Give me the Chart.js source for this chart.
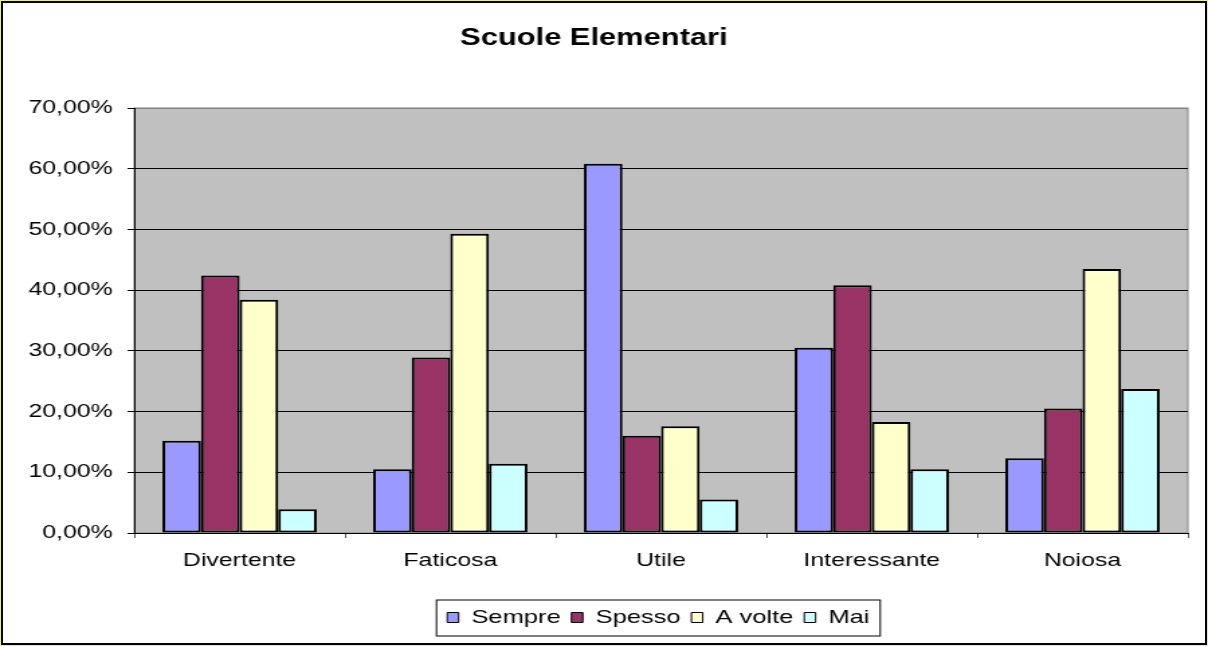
<!DOCTYPE html>
<html>
<head>
<meta charset="utf-8">
<script src="https://cdn.jsdelivr.net/npm/chart.js@4/dist/chart.umd.min.js"></script>
<style>
    body { margin: 0; background: #fff; }
    #wrap { position: relative; width: 1208px; height: 646px; }
    #chart { position: absolute; left: 0; top: 0; }
    #frame {
        position: absolute; left: 0; top: 0; width: 1208px; height: 646px;
        box-sizing: border-box; border: 1px solid #f0f070; pointer-events: none;
    }
    #frame div {
        position: absolute; left: 0; top: 0; right: 0; bottom: 0;
        border: 2px solid #000;
    }
</style>
</head>
<body>
<div id="wrap">
    <!-- drawn narrower, then stretched to 1208 wide like the original -->
    <canvas id="chart" width="900" height="646" style="width: 1208px; height: 646px;"></canvas>
    <div id="frame"><div></div></div>
</div>
<script>
const categories = ['Divertente', 'Faticosa', 'Utile', 'Interessante', 'Noiosa'];
const seriesNames = ['Sempre', 'Spesso', 'A volte', 'Mai'];
const sempre = [15.2, 10.5, 60.8, 30.5, 12.3];
const spesso = [42.4, 28.9, 16.0, 40.8, 20.5];
const aVolte = [38.4, 49.3, 17.6, 18.3, 43.5];
const mai = [3.9, 11.4, 5.5, 10.5, 23.7];
const seriesColors = ['#9999FF', '#993366', '#FFFFCC', '#CCFFFF'];
const yTicks = [0, 10, 20, 30, 40, 50, 60, 70];

const font = 'Arial, "Liberation Sans", sans-serif';

const plotBackground = {
    id: 'plotBackground',
    beforeDraw(chart) {
        const { ctx, chartArea: a } = chart;
        ctx.save();
        ctx.fillStyle = '#C0C0C0';
        ctx.fillRect(a.left, a.top, a.right - a.left, a.bottom - a.top);
        ctx.strokeStyle = '#808080';
        ctx.lineWidth = 1;
        ctx.strokeRect(a.left, a.top, a.right - a.left, a.bottom - a.top);
        ctx.restore();
    }
};

// legend sits right of centre in the original, with a frame round it
const legendBox = {
    id: 'legendBox',
    afterLayout(chart) {
        chart.legend.left += 48;
        chart.legend.right += 48;
    },
    afterDraw(chart) {
        const boxes = chart.legend.legendHitBoxes;
        if (!boxes || !boxes.length) return;
        const first = boxes[0];
        const last = boxes[boxes.length - 1];
        const { ctx } = chart;
        ctx.save();
        ctx.strokeStyle = '#000';
        ctx.lineWidth = 1;
        ctx.strokeRect(first.left - 8, first.top - 8, last.left + last.width - first.left + 16, 36);
        ctx.restore();
    }
};

const ctx = document.getElementById('chart').getContext('2d');
new Chart(ctx, {
    type: 'bar',
    data: {
        labels: categories,
        datasets: [sempre, spesso, aVolte, mai].map((values, i) => ({
            label: seriesNames[i],
            data: values,
            backgroundColor: seriesColors[i],
            borderColor: '#000',
            borderWidth: 2,
            borderSkipped: false,
            categoryPercentage: 0.732,
            barPercentage: 1
        }))
    },
    options: {
        responsive: false,
        animation: false,
        devicePixelRatio: 1,
        layout: { padding: { left: 0, right: 15, top: 0, bottom: 9 } },
        plugins: {
            title: {
                display: true,
                text: 'Scuole Elementari',
                color: '#000',
                font: { family: font, size: 23, weight: 'bold' },
                padding: { top: 25, bottom: 55.4 }
            },
            legend: {
                position: 'bottom',
                labels: {
                    color: '#000',
                    font: { family: font, size: 19 },
                    boxWidth: 8.5,
                    boxHeight: 10,
                    padding: 8,
                    generateLabels(chart) {
                        const items = Chart.defaults.plugins.legend.labels.generateLabels(chart);
                        items.forEach(it => { it.lineWidth = 1; it.strokeStyle = '#000'; });
                        return items;
                    }
                }
            },
            tooltip: { enabled: false }
        },
        scales: {
            x: {
                grid: {
                    offset: true,
                    drawOnChartArea: false,
                    drawTicks: true,
                    tickLength: 5,
                    color: '#555',
                    tickColor: '#555'
                },
                border: { display: true, color: '#000', width: 1 },
                ticks: {
                    color: '#000',
                    font: { family: font, size: 18.5 },
                    padding: 12,
                    maxRotation: 0
                },
                afterFit(scale) { scale.height = 67; }
            },
            y: {
                min: 0,
                max: 70,
                afterBuildTicks(scale) { scale.ticks = yTicks.map(v => ({ value: v })); },
                grid: {
                    color: ctx => (ctx.tick && ctx.tick.value === 70 ? '#808080' : '#000'),
                    tickColor: '#000',
                    tickLength: 5,
                    lineWidth: 1
                },
                border: { display: true, color: '#000', width: 1 },
                ticks: {
                    color: '#000',
                    font: { family: font, size: 18.5 },
                    padding: 11,
                    callback: v => v.toFixed(2).replace('.', ',') + '%'
                },
                afterFit(scale) { scale.width = 100; }
            }
        }
    },
    plugins: [plotBackground, legendBox]
});
</script>
</body>
</html>
